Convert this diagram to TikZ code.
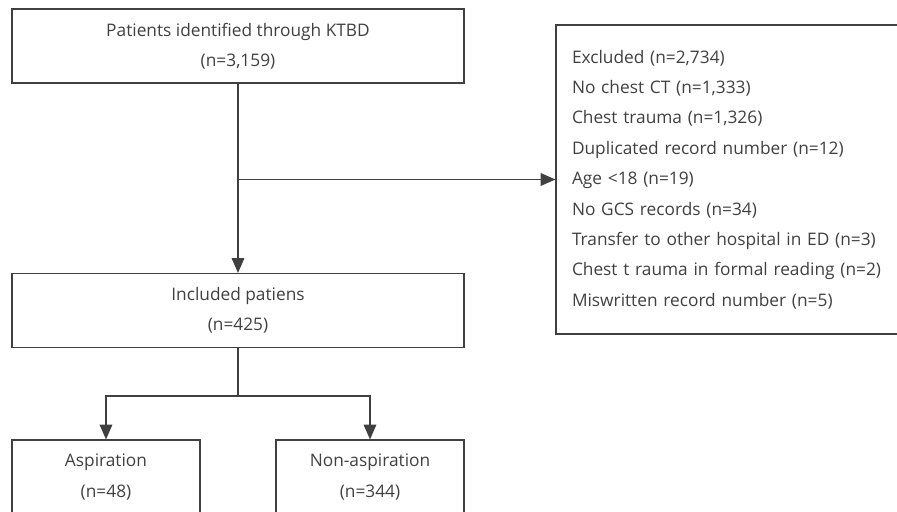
\documentclass[tikz,border=0pt]{standalone}
\usepackage{fontspec}
\setmainfont{Open Sans}
\usetikzlibrary{arrows.meta, positioning, calc}

\begin{document}
\begin{tikzpicture}[>={Triangle[length=10.5pt,width=9pt]}, every node/.style={align=center, text=black!75, font=\fontsize{12.3}{21.6}\selectfont}, box/.style={draw=black!75, line width=0.8pt, minimum height=1.85cm, inner sep=0pt}, post/.style={->, draw=black!75, line width=0.8pt}]

	\useasboundingbox (0,0) rectangle (22.425,-12.8);
	\clip (0,0) rectangle (22.425,-12.8);

	\node [box, minimum width=11.3cm] (CH) at (5.95,-1.15)
		{Patients identified through KTBD\\(n=3,159)};

	\node [box, minimum width=11.3cm] (INC)
		[below of = CH, node distance=6.6125cm]
		{Included patiens\\(n=425)};

	\node [box, minimum width=4.7cm] (ASP)
		[below of = INC, node distance=4.1625cm, xshift=-3.3cm]
		{Aspiration\\(n=48)};

	\node [box, minimum width=4.7cm] (NASP)
		[below of = INC, node distance=4.1625cm, xshift=3.3cm]
		{Non-aspiration\\(n=344)};

	\node [box, minimum height=7.725cm, text width=8.05cm, inner xsep=0.4cm, align=left] (EX)
		[right of = CH, node distance=12.375cm, yshift=-3.3375cm]
		{Excluded (n=2,734)\\
		No chest CT (n=1,333)\\
		Chest trauma (n=1,326)\\
		Duplicated record number (n=12)\\
		Age <18 (n=19)\\
		No GCS records (n=34)\\
		Transfer to other hospital in ED (n=3)\\
		Chest t rauma in formal reading (n=2)\\
		Miswritten record number (n=5)};

	\coordinate (fork) at ($(INC.south)+(0,-1.2)$);

	\draw[post] (CH) -- (INC);
	\draw[post] (CH.south |- EX.west) -- (EX.west);

	\draw[post, -] (INC) -- (fork);
	\draw[post] (fork) -| (ASP);
	\draw[post] (fork) -| (NASP);

\end{tikzpicture}
\end{document}
